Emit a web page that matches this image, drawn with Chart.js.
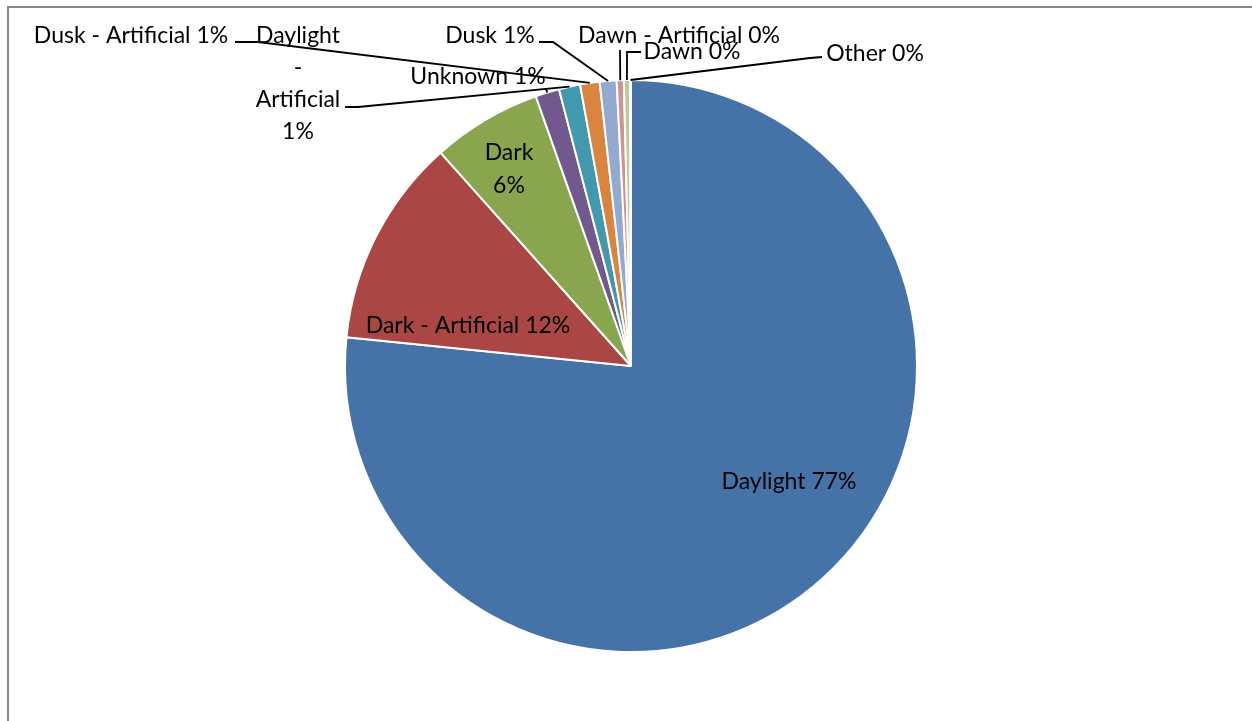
<!DOCTYPE html>
<html>
<head>
<meta charset="utf-8">
<script src="https://cdn.jsdelivr.net/npm/chart.js@4.4.0/dist/chart.umd.min.js"></script>
<style>
  html, body { margin: 0; padding: 0; background: #fff; }
  #lightPie { display: block; }
</style>
</head>
<body>
<canvas id="lightPie" width="1252" height="721"></canvas>
<script>
// Light conditions share (percent)
const lightLabels = ["Daylight", "Dark - Artificial", "Dark", "Unknown", "Daylight - Artificial",
                     "Dusk - Artificial", "Dusk", "Dawn - Artificial", "Dawn", "Other"];
const lightShare = [76.6, 11.8, 6.2, 1.35, 1.2, 1.1, 0.95, 0.4, 0.35, 0.05];
const sliceColors = ["#4572A7", "#AA4643", "#89A54E", "#71588F", "#4198AF",
                     "#DB843D", "#93A9CF", "#D19392", "#B9CD96", "#A99BBD"];

// where each data label sits; leader = points from the label toward its slice
const labelSpots = [
  { x: 789, y: 482, lines: false },
  { x: 468, y: 326, lines: false },
  { x: 509, y: 153, lines: true, gap: 33 },
  { x: 478, y: 77, lines: false, leader: [[546, 89]] },
  { x: 298, y: 36, lines: true, gap: 32, leader: [[345, 107], [358, 107]] },
  { x: 131, y: 36, lines: false, leader: [[235, 42], [258, 42]] },
  { x: 490, y: 36, lines: false, leader: [[539, 42], [553, 42]] },
  { x: 679, y: 36, lines: false, leader: [[620, 50]] },
  { x: 692, y: 52, lines: false, leader: [[641, 52], [627, 52]] },
  { x: 875, y: 54, lines: false, leader: [[822, 57], [810, 58]] }
];

const FONT = "23px Lato, 'Open Sans', sans-serif";

const framePlugin = {
  id: "frame",
  beforeDraw(chart) {
    const ctx = chart.ctx;
    ctx.save();
    ctx.strokeStyle = "#868686";
    ctx.lineWidth = 2;
    ctx.beginPath();
    ctx.moveTo(8, chart.height);
    ctx.lineTo(8, 7);
    ctx.lineTo(chart.width, 7);
    ctx.stroke();
    ctx.restore();
  }
};

const pieLabels = {
  id: "pieLabels",
  afterDatasetsDraw(chart) {
    const ctx = chart.ctx;
    const meta = chart.getDatasetMeta(0);
    const data = chart.data.datasets[0].data;
    const total = data.reduce((a, b) => a + b, 0);
    ctx.save();
    ctx.font = FONT;
    ctx.fillStyle = "#000";
    ctx.strokeStyle = "#000";
    ctx.lineWidth = 1.8;
    ctx.textAlign = "center";
    ctx.textBaseline = "middle";
    meta.data.forEach((arc, i) => {
      const spot = labelSpots[i];
      const pct = Math.round(data[i] / total * 100) + "%";
      const name = chart.data.labels[i];
      if (spot.leader) {
        const mid = (arc.startAngle + arc.endAngle) / 2;
        const ex = arc.x + Math.cos(mid) * arc.outerRadius;
        const ey = arc.y + Math.sin(mid) * arc.outerRadius;
        ctx.beginPath();
        ctx.moveTo(spot.leader[0][0], spot.leader[0][1]);
        spot.leader.slice(1).forEach(p => ctx.lineTo(p[0], p[1]));
        ctx.lineTo(ex, ey);
        ctx.stroke();
      }
      if (spot.lines) {
        const parts = name.split(" ").concat([pct]);
        parts.forEach((t, k) => ctx.fillText(t, spot.x, spot.y + k * spot.gap));
      } else {
        ctx.fillText(name + " " + pct, spot.x, spot.y);
      }
    });
    ctx.restore();
  }
};

new Chart("lightPie", {
  type: "pie",
  data: {
    labels: lightLabels,
    datasets: [{
      data: lightShare,
      backgroundColor: sliceColors,
      borderColor: "#ffffff",
      borderWidth: 2
    }]
  },
  options: {
    responsive: false,
    animation: false,
    layout: { padding: { top: 79, bottom: 68, left: 10, right: 0 } },
    plugins: {
      legend: { display: false },
      tooltip: { enabled: false }
    }
  },
  plugins: [framePlugin, pieLabels]
});
</script>
</body>
</html>
